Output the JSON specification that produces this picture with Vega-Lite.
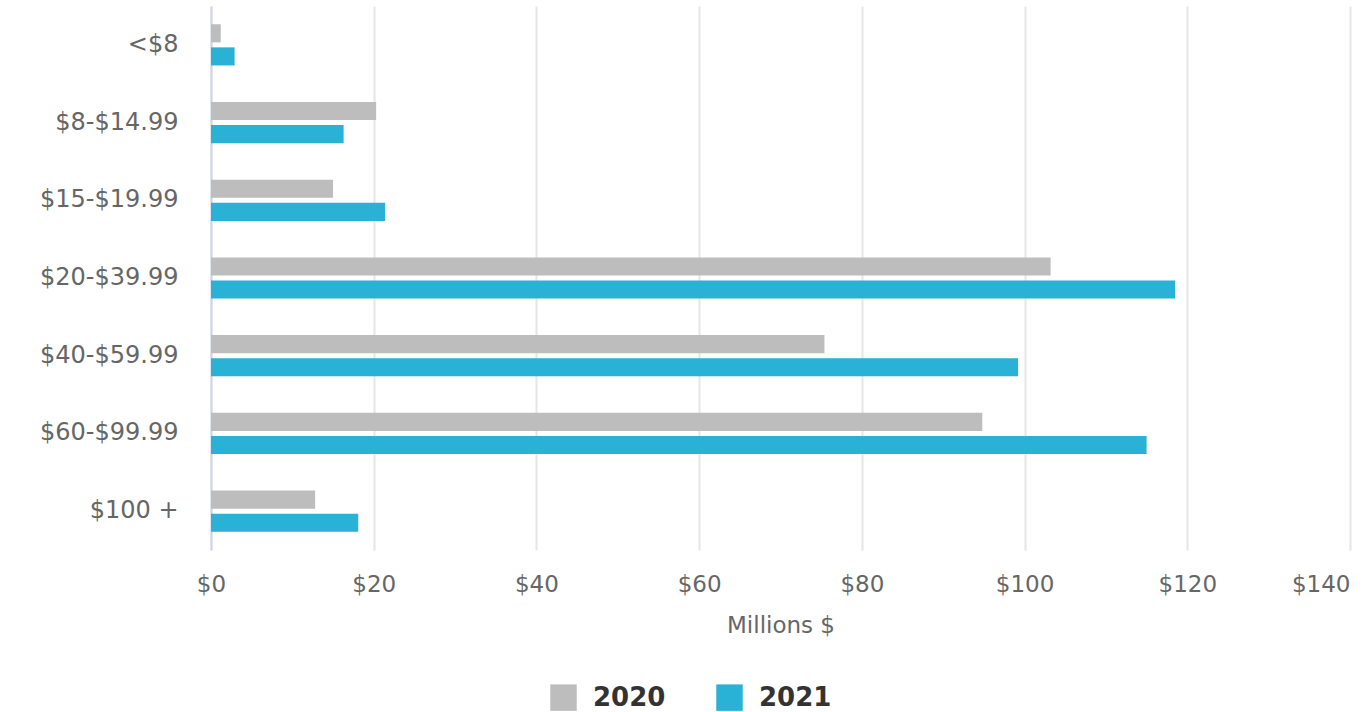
{
  "$schema": "https://vega.github.io/schema/vega-lite/v6.json",
  "autosize": "none",
  "width": 1139,
  "height": 544,
  "padding": {"left": 211, "top": 6, "right": 22, "bottom": 162},
  "background": "white",
  "config": {
    "view": {"stroke": null},
    "font": "DejaVu Sans"
  },
  "data": {
    "values": [
      {"range": "<$8", "year": "2020", "value": 1.2},
      {"range": "<$8", "year": "2021", "value": 2.9},
      {"range": "$8-$14.99", "year": "2020", "value": 20.3},
      {"range": "$8-$14.99", "year": "2021", "value": 16.3},
      {"range": "$15-$19.99", "year": "2020", "value": 15.0},
      {"range": "$15-$19.99", "year": "2021", "value": 21.4},
      {"range": "$20-$39.99", "year": "2020", "value": 103.2},
      {"range": "$20-$39.99", "year": "2021", "value": 118.5},
      {"range": "$40-$59.99", "year": "2020", "value": 75.4},
      {"range": "$40-$59.99", "year": "2021", "value": 99.2},
      {"range": "$60-$99.99", "year": "2020", "value": 94.8},
      {"range": "$60-$99.99", "year": "2021", "value": 115.0},
      {"range": "$100 +", "year": "2020", "value": 12.8},
      {"range": "$100 +", "year": "2021", "value": 18.1}
    ]
  },
  "mark": {"type": "bar"},
  "encoding": {
    "y": {
      "field": "range",
      "type": "nominal",
      "sort": ["<$8", "$8-$14.99", "$15-$19.99", "$20-$39.99", "$40-$59.99", "$60-$99.99", "$100 +"],
      "scale": {"paddingInner": 0.47, "paddingOuter": 0.235},
      "axis": {
        "title": null,
        "ticks": false,
        "domain": true,
        "domainColor": "#ccd6eb",
        "domainWidth": 2,
        "labelFontSize": 24,
        "labelColor": "#666666",
        "labelPadding": 33,
        "labelFont": "DejaVu Sans"
      }
    },
    "yOffset": {
      "field": "year",
      "type": "nominal",
      "sort": ["2020", "2021"],
      "scale": {"paddingInner": 0.217, "paddingOuter": 0}
    },
    "x": {
      "field": "value",
      "type": "quantitative",
      "scale": {"domain": [0, 140], "nice": false},
      "axis": {
        "title": "Millions $",
        "values": [0, 20, 40, 60, 80, 100, 120, 140],
        "labelExpr": "'$' + datum.value",
        "labelFlush": false,
        "labelAlign": {"condition": {"test": "datum.value == 140", "value": "right"}, "value": "center"},
        "domain": false,
        "ticks": false,
        "grid": true,
        "gridColor": "#e6e6e6",
        "gridWidth": 2,
        "labelFontSize": 23,
        "labelColor": "#666666",
        "labelPadding": 23,
        "labelFontWeight": "normal",
        "titleFontSize": 23,
        "titleColor": "#666666",
        "titleFontWeight": "normal",
        "titlePadding": 18
      }
    },
    "color": {
      "field": "year",
      "type": "nominal",
      "scale": {"domain": ["2020", "2021"], "range": ["#bdbdbd", "#29b1d6"]},
      "legend": {
        "title": null,
        "orient": "none",
        "direction": "horizontal",
        "legendX": 339,
        "legendY": 678,
        "symbolType": "square",
        "symbolSize": 700,
        "symbolStrokeWidth": 0,
        "symbolOpacity": 1,
        "labelFontSize": 26,
        "labelFontWeight": "bold",
        "labelColor": "#333333",
        "labelOffset": 16,
        "columnPadding": 50
      }
    }
  }
}
